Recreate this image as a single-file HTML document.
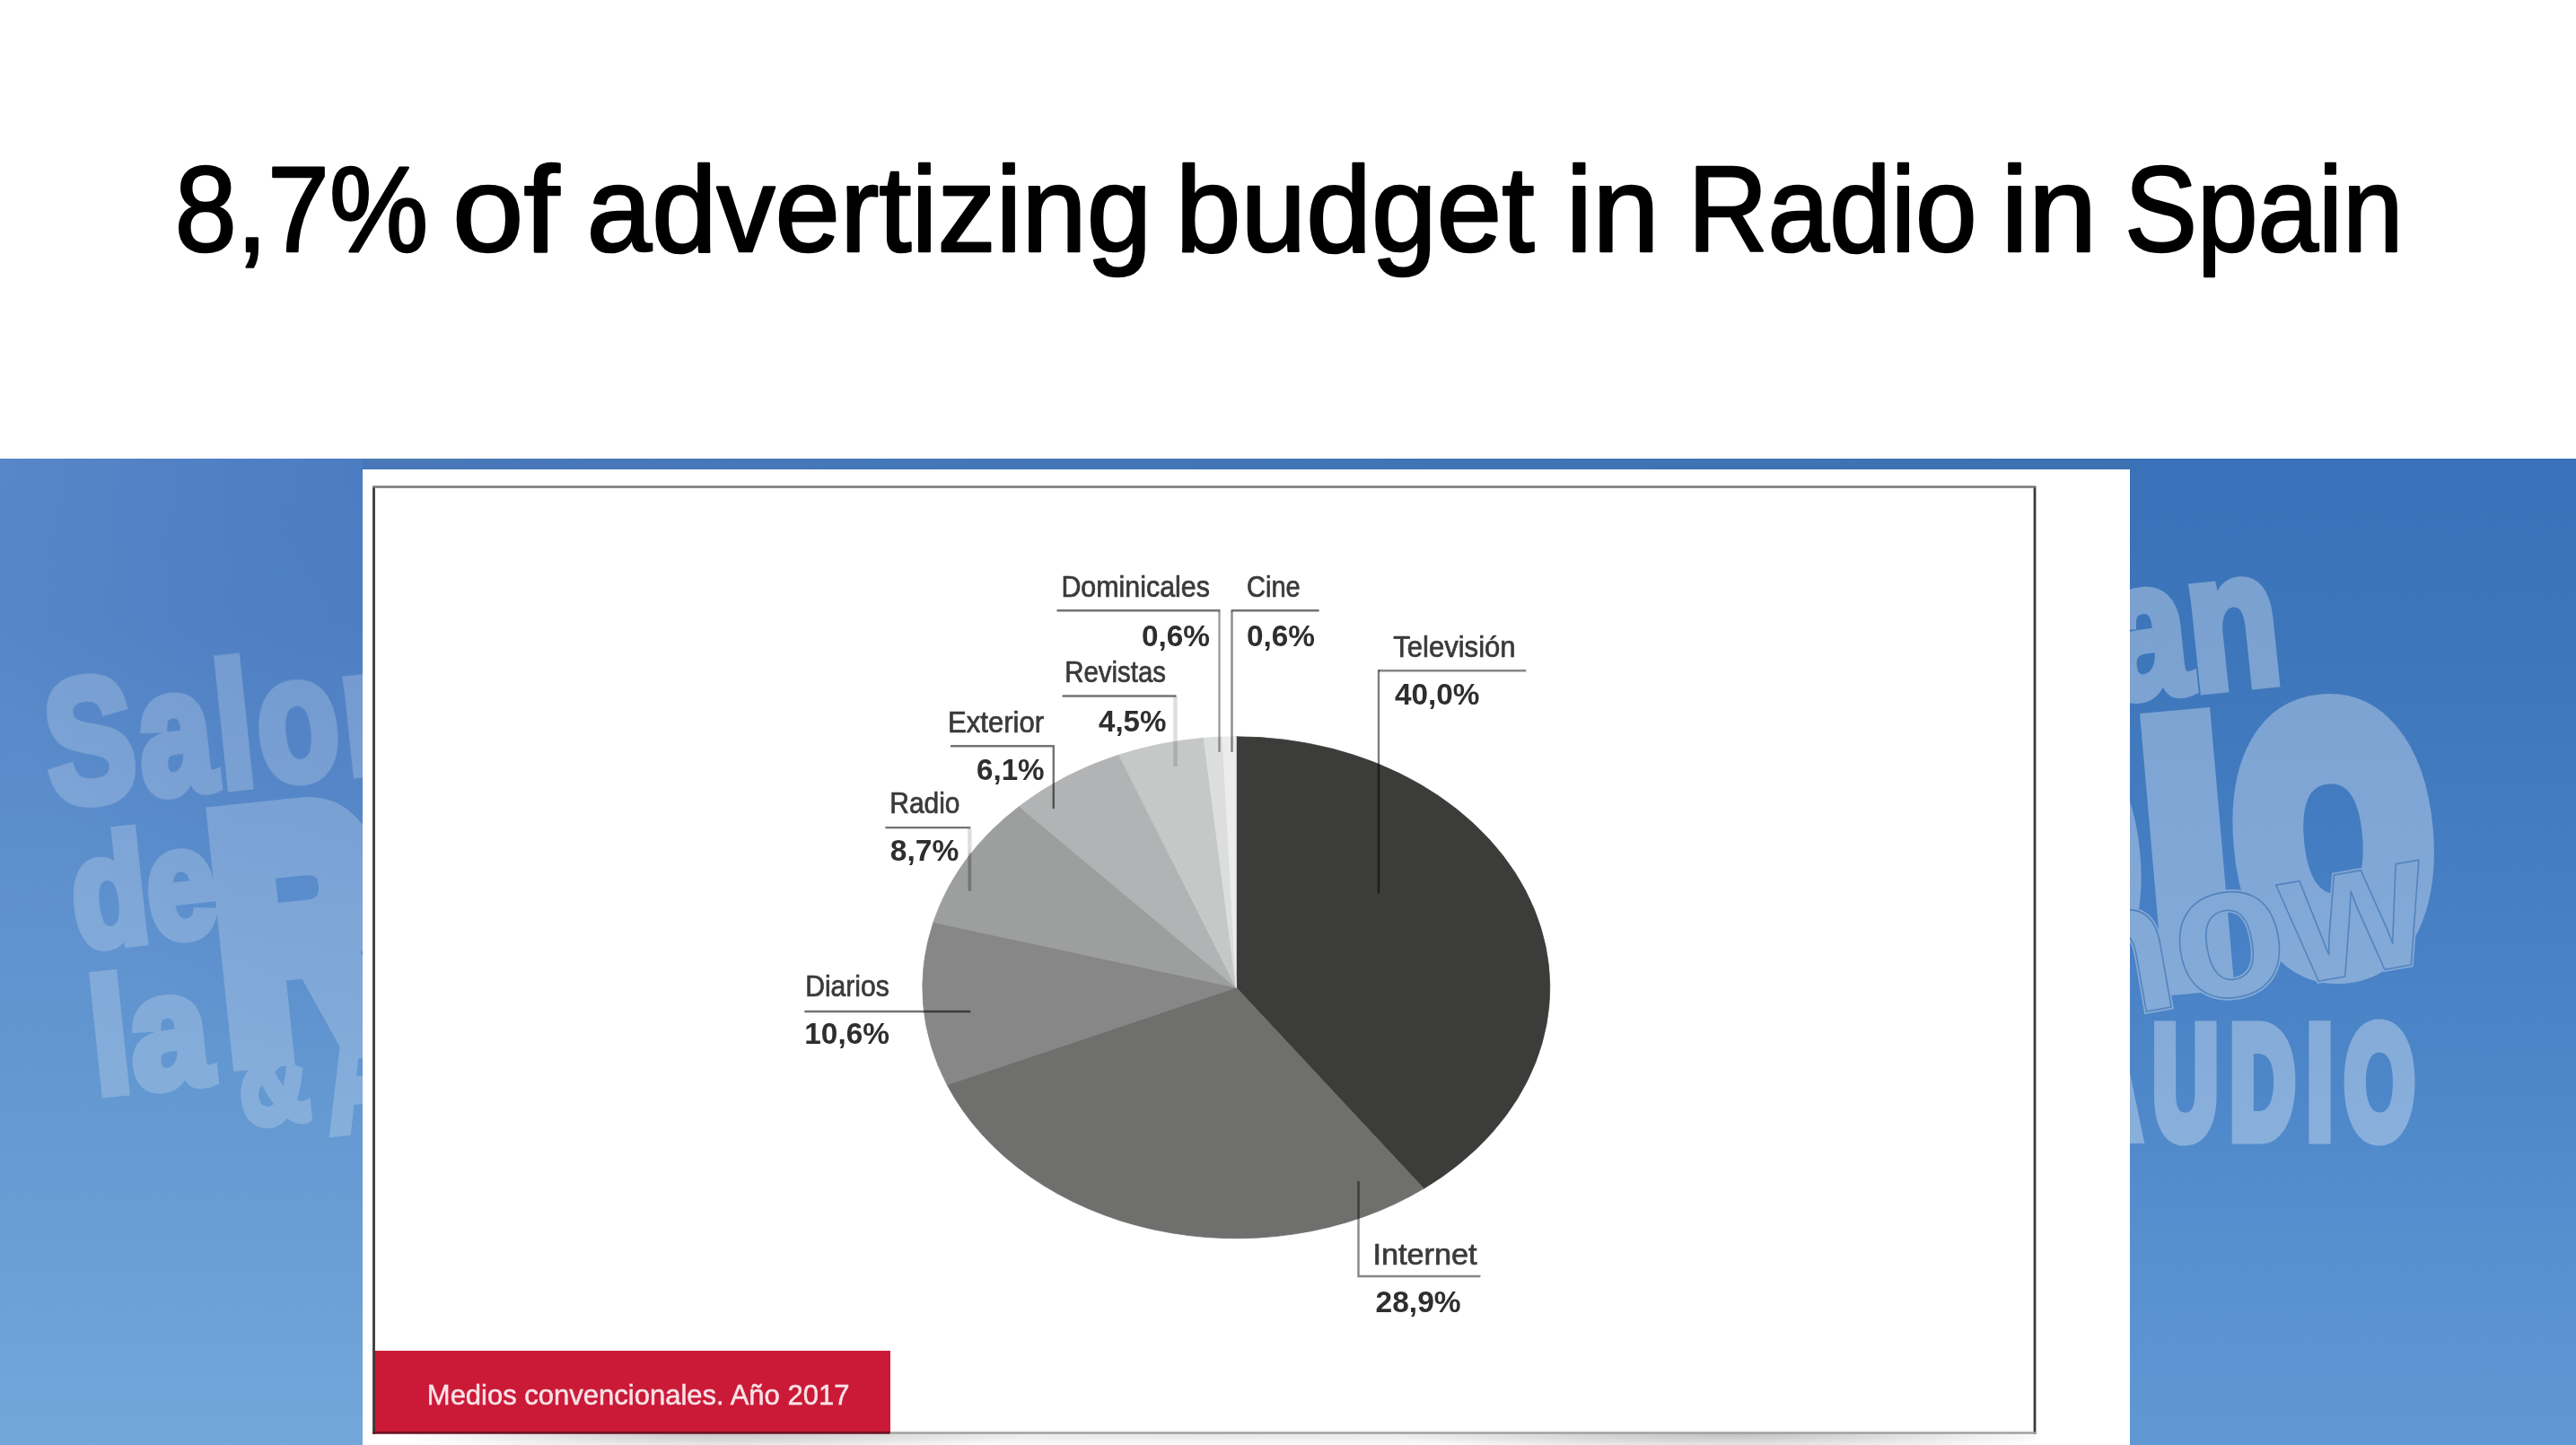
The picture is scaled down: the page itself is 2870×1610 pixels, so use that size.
<!DOCTYPE html>
<html lang="es"><head><meta charset="utf-8"><title>8,7% of advertizing budget in Radio in Spain</title>
<style>
html,body{margin:0;padding:0;background:#fff}
body{width:2870px;height:1610px;position:relative;overflow:hidden;font-family:"Liberation Sans",sans-serif}
#bg{position:absolute;left:0;top:511px;width:2870px;height:1099px;overflow:hidden;background:linear-gradient(90deg,#4a7ab8 0,#4677b6 30%,#3a6fb0 100%)}
#bgL{position:absolute;left:0;top:0;width:404px;height:100%;background:radial-gradient(ellipse 420px 700px at 100% 0,rgba(60,110,185,0.42),rgba(60,110,185,0) 100%),linear-gradient(180deg,#5787c8 0,#5686c7 17%,#5e91ce 45%,#669bd3 72%,#6ea3d8 90%,#73a7da 100%)}
#bgR{position:absolute;left:2373px;top:0;width:497px;height:100%;background:linear-gradient(180deg,#3972b8 0,#3d76bb 20%,#467fc4 45%,#4c85c8 60%,#5790cf 80%,#6098d3 100%)}
#panel{position:absolute;left:404px;top:523px;width:1969px;height:1087px;background:#fff}
#frame{position:absolute;left:415px;top:541px;width:1853px;height:1056px;background:#fff}
#red{position:absolute;left:417px;top:1505px;width:574.5px;height:90px;background:#cb1a38;border-bottom:2.4px solid #86192b}
#shadow{position:absolute;left:415px;top:1597px;width:1853px;height:13px;background:radial-gradient(ellipse 360px 24px at 20% 0,rgba(0,0,0,0.19),rgba(0,0,0,0) 100%),radial-gradient(ellipse 380px 24px at 82% 0,rgba(0,0,0,0.22),rgba(0,0,0,0) 100%),radial-gradient(ellipse 900px 16px at 50% 0,rgba(0,0,0,0.10),rgba(0,0,0,0) 100%)}
svg{position:absolute;left:0;top:0}
#wm text{vector-effect:non-scaling-stroke}
.t{font-family:"Liberation Sans",sans-serif;font-size:136px;fill:#000;stroke:#000;stroke-width:2.6px;stroke-linejoin:round}
.l{font-family:"Liberation Sans",sans-serif;font-size:32.5px;fill:#3a3a3a;stroke:#3a3a3a;stroke-width:0.7px}
.v{font-family:"Liberation Sans",sans-serif;font-size:32.5px;font-weight:700;fill:#2e2e2e}
.r{font-family:"Liberation Sans",sans-serif;font-size:32px;fill:#fae3e7;stroke:#fae3e7;stroke-width:0.5px}
</style></head>
<body>
<div id="bg"><div id="bgL"></div><div id="bgR"></div>
<svg id="wm" width="2870" height="1610" viewBox="0 0 2870 1610" style="position:absolute;left:0;top:-511px">
<g opacity="0.215" fill="#fff" stroke="#fff" stroke-linejoin="miter" font-family="Liberation Sans, sans-serif" font-weight="700">
<text transform="translate(58,897) rotate(-6) scale(0.76,1)" font-size="195" stroke-width="10" letter-spacing="6">Salon</text>
<text transform="translate(86,1056) rotate(-6) scale(0.80,1)" font-size="172" stroke-width="10">de</text>
<text transform="translate(107,1219) rotate(-6) scale(0.88,1)" font-size="180" stroke-width="10">la</text>
<text transform="translate(257,1171) rotate(-6) scale(0.70,1)" font-size="363" stroke-width="40">RADIO</text>
<text transform="translate(270,1254) rotate(-6) scale(0.68,1)" font-size="160" stroke-width="8">&amp;</text>
<text transform="translate(368,1262) rotate(-6) scale(0.62,1)" font-size="190" stroke-width="9">AUDIO</text>
</g>
<g opacity="0.32" fill="#fff" stroke="#fff" stroke-linejoin="miter" font-family="Liberation Sans, sans-serif" font-weight="700" text-anchor="end">
<text transform="translate(2546,759) rotate(-6) scale(0.78,1)" font-size="215" stroke-width="10">Iberian</text>
<text transform="translate(2738,1052) rotate(-5) scale(0.70,1)" font-size="375" stroke-width="50" letter-spacing="36">RADIO</text>
<text transform="translate(2714,1070) rotate(-10) scale(0.96,1)" font-size="215" stroke-width="5">show</text>
<text transform="translate(2704,1266) scale(0.57,1)" font-size="174" stroke-width="14" letter-spacing="25">AUDIO</text>
</g>
<g fill="none" stroke="#3f74b4" stroke-opacity="0.7" stroke-width="1.6" font-family="Liberation Sans, sans-serif" font-weight="700" text-anchor="end">
<text transform="translate(2714,1070) rotate(-10) scale(0.96,1)" font-size="215">show</text>
</g>
</svg>
</div>
<div id="panel"></div>
<div id="shadow"></div>
<div id="frame"></div>
<div id="red"></div>
<svg width="2870" height="1610" viewBox="0 0 2870 1610">
<path d="M416.5 1597.8V542.5" fill="none" stroke="#3a3a3a" stroke-width="2.8"/>
<path d="M2267 1597.8V542.5" fill="none" stroke="#3a3a3a" stroke-width="2.8"/>
<path d="M415.1 542.5H2268.4" fill="none" stroke="#747474" stroke-width="2.6"/>
<path d="M991.5 1596.5H2268.4" fill="none" stroke="#a0a0a0" stroke-width="2.4"/>
<path d="M415.1 1596.5H991.5" fill="none" stroke="#6e1224" stroke-width="2.6"/>
<g>
<path d="M1377.3 1100.3L1377.3 820.8A349.5 279.5 0 0 1 1586.3 1324.3Z" fill="#3c3c3b" stroke="#3c3c3b" stroke-width="0.8"/>
<path d="M1377.3 1100.3L1586.3 1324.3A349.5 279.5 0 0 1 1055.2 1208.7Z" fill="#6f6f6e" stroke="#6f6f6e" stroke-width="0.8"/>
<path d="M1377.3 1100.3L1055.2 1208.7A349.5 279.5 0 0 1 1039.9 1027.4Z" fill="#878787" stroke="#878787" stroke-width="0.8"/>
<path d="M1377.3 1100.3L1039.9 1027.4A349.5 279.5 0 0 1 1135.5 898.5Z" fill="#9d9e9e" stroke="#9d9e9e" stroke-width="0.8"/>
<path d="M1377.3 1100.3L1135.5 898.5A349.5 279.5 0 0 1 1246.6 841.1Z" fill="#b2b3b4" stroke="#b2b3b4" stroke-width="0.8"/>
<path d="M1377.3 1100.3L1246.6 841.1A349.5 279.5 0 0 1 1341.1 822.3Z" fill="#c6c8c7" stroke="#c6c8c7" stroke-width="0.8"/>
<path d="M1377.3 1100.3L1341.1 822.3A349.5 279.5 0 0 1 1361.9 821.1Z" fill="#dcdede" stroke="#dcdede" stroke-width="0.8"/>
<path d="M1377.3 1100.3L1361.9 821.1A349.5 279.5 0 0 1 1377.3 820.8Z" fill="#ececec" stroke="#ececec" stroke-width="0.8"/>
</g>

<g fill="none" stroke="#000" stroke-opacity="0.55" stroke-width="2.4">
<path d="M1177.5 680.2H1359.5"/>
<path d="M1469.6 680.2H1371.5"/>
<path d="M1183.6 775.5H1310.5"/>
<path d="M1059 831.3H1173.8V901"/>
<path d="M986.3 922.1H1081.3"/>
<path d="M896.3 1127H1081.2"/>
<path d="M1700.3 747.3H1536" stroke-opacity="0.47"/>
<path d="M1536 746.1V995.5" stroke-opacity="0.5"/>
<path d="M1513.5 1316V1422H1649.4" stroke-opacity="0.47"/>
<path d="M1080.3 950V992.7" stroke-opacity="0.16"/>
</g>
<g fill="none" stroke="#000" stroke-width="2.4">
<path d="M1358.5 681V838" stroke-opacity="0.38"/>
<path d="M1372.5 681V838" stroke-opacity="0.46"/>
</g>
<g fill="none" stroke="#000" stroke-opacity="0.13" stroke-width="4.5">
<path d="M1309.5 776V854"/>
<path d="M1080.3 923V992.7"/>
</g>

<text class="l" x="1182.4" y="664.6" textLength="165.6" lengthAdjust="spacingAndGlyphs">Dominicales</text>
<text class="v" x="1272.0" y="719.5" textLength="76.0" lengthAdjust="spacingAndGlyphs">0,6%</text>
<text class="l" x="1389.0" y="664.6" textLength="59.7" lengthAdjust="spacingAndGlyphs">Cine</text>
<text class="v" x="1389.0" y="719.5" textLength="76.0" lengthAdjust="spacingAndGlyphs">0,6%</text>
<text class="l" x="1186.3" y="759.8" textLength="112.7" lengthAdjust="spacingAndGlyphs">Revistas</text>
<text class="v" x="1224.0" y="814.5" textLength="75.4" lengthAdjust="spacingAndGlyphs">4,5%</text>
<text class="l" x="1056.1" y="815.7" textLength="106.9" lengthAdjust="spacingAndGlyphs">Exterior</text>
<text class="v" x="1088.0" y="869.0" textLength="75.6" lengthAdjust="spacingAndGlyphs">6,1%</text>
<text class="l" x="991.3" y="906.2" textLength="78.2" lengthAdjust="spacingAndGlyphs">Radio</text>
<text class="v" x="991.8" y="959.0" textLength="76.4" lengthAdjust="spacingAndGlyphs">8,7%</text>
<text class="l" x="897.2" y="1109.8" textLength="93.6" lengthAdjust="spacingAndGlyphs">Diarios</text>
<text class="v" x="896.3" y="1162.5" textLength="94.7" lengthAdjust="spacingAndGlyphs">10,6%</text>
<text class="l" x="1552.2" y="732.2" textLength="136.4" lengthAdjust="spacingAndGlyphs">Televisión</text>
<text class="v" x="1554.0" y="785.3" textLength="94.4" lengthAdjust="spacingAndGlyphs">40,0%</text>
<text class="l" x="1529.4" y="1409.4" textLength="116.2" lengthAdjust="spacingAndGlyphs">Internet</text>
<text class="v" x="1532.6" y="1461.9" textLength="95.0" lengthAdjust="spacingAndGlyphs">28,9%</text>
<text class="r" x="475.8" y="1564.6" textLength="470.6" lengthAdjust="spacingAndGlyphs">Medios convencionales. Año 2017</text>
<text class="t" y="280"><tspan x="194.7" textLength="282.4" lengthAdjust="spacingAndGlyphs">8,7%</tspan> <tspan x="504.0" textLength="119.2" lengthAdjust="spacingAndGlyphs">of</tspan> <tspan x="653.8" textLength="629.3" lengthAdjust="spacingAndGlyphs">advertizing</tspan> <tspan x="1309.8" textLength="399.8" lengthAdjust="spacingAndGlyphs">budget</tspan> <tspan x="1744.4" textLength="104.2" lengthAdjust="spacingAndGlyphs">in</tspan> <tspan x="1880.6" textLength="322.0" lengthAdjust="spacingAndGlyphs">Radio</tspan> <tspan x="2229.3" textLength="107.1" lengthAdjust="spacingAndGlyphs">in</tspan> <tspan x="2366.9" textLength="310.6" lengthAdjust="spacingAndGlyphs">Spain</tspan></text>
</svg>
</body></html>
